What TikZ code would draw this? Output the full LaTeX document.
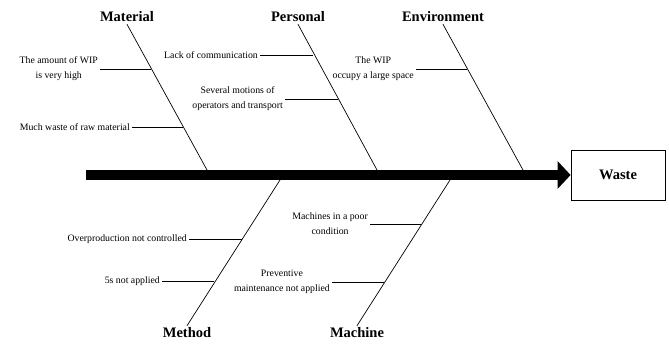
\documentclass[tikz,border=0pt]{standalone}
\usepackage{fontspec}
\setmainfont{Liberation Serif}
\usepackage{tikz}
\usetikzlibrary{arrows.meta,positioning,calc}

\begin{document}
\begin{tikzpicture}[
  x=1pt, y=-1pt,
  cat/.style={inner sep=2pt, font=\fontsize{14.5}{16}\selectfont\bfseries},
  cause/.style={inner sep=2pt, align=center, anchor=east,
                font=\fontsize{9.8}{15}\selectfont},
  effect/.style={draw, line width=0.8pt, minimum width=94pt, minimum height=50pt,
                 inner sep=0pt, font=\fontsize{14.5}{16}\selectfont\bfseries},
  bone/.style={line width=0.7pt, black},
  spine/.style={line width=10pt, -{Triangle[length=13pt,width=27pt]}}
]
  \useasboundingbox (0,0) rectangle (669,344);

  % effect and backbone
  \node[effect] (waste) at (618,175) {Waste};
  \coordinate (tail) at (86,175);
  \draw[spine] (tail) -- (waste.west);

  % categories
  \node[cat] (mat) at (127,17)  {Material};
  \node[cat] (per) at (298,17)  {Personal};
  \node[cat] (env) at (443,17)  {Environment};
  \node[cat] (met) at (187,333) {Method};
  \node[cat] (mac) at (357,333) {Machine};

  \coordinate (smat) at (207,170);
  \coordinate (sper) at (377,170);
  \coordinate (senv) at (523,170);
  \coordinate (smet) at (280,180);
  \coordinate (smac) at (450,180);

  \draw[bone] (mat.south) -- (smat) coordinate[pos=0.294] (m1) coordinate[pos=0.70] (m2);
  \draw[bone] (per.south) -- (sper) coordinate[pos=0.196] (p1) coordinate[pos=0.503] (p2);
  \draw[bone] (env.south) -- (senv) coordinate[pos=0.294] (e1);
  \draw[bone] (met.north) -- (smet) coordinate[pos=0.587] (t1) coordinate[pos=0.294] (t2);
  \draw[bone] (mac.north) -- (smac) coordinate[pos=0.692] (c1) coordinate[pos=0.287] (c2);

  % causes
  \node[cause] (wip)  at (100,69)  {The amount of WIP\\is very high};
  \node[cause] (raw)  at (132,127) {Much waste of raw material};
  \node[cause] (comm) at (260,55)  {Lack of communication};
  \node[cause] (moti) at (285,99)  {Several motions of\\operators and transport};
  \node[cause] (spac) at (416,69)  {The WIP\\occupy a large space};
  \node[cause] (over) at (189,239) {Overproduction not controlled};
  \node[cause] (five) at (162,281) {5s not applied};
  \node[cause] (poor) at (370,224) {Machines in a poor\\condition};
  \node[cause] (prev) at (332,282) {Preventive\\maintenance not applied};

  \draw[bone] (wip.east)  -- (wip.east -| m1);
  \draw[bone] (raw.east)  -- (raw.east -| m2);
  \draw[bone] (comm.east) -- (comm.east -| p1);
  \draw[bone] (moti.east) -- (moti.east -| p2);
  \draw[bone] (spac.east) -- (spac.east -| e1);
  \draw[bone] (over.east) -- (over.east -| t1);
  \draw[bone] (five.east) -- (five.east -| t2);
  \draw[bone] (poor.east) -- (poor.east -| c1);
  \draw[bone] (prev.east) -- (prev.east -| c2);
\end{tikzpicture}
\end{document}
